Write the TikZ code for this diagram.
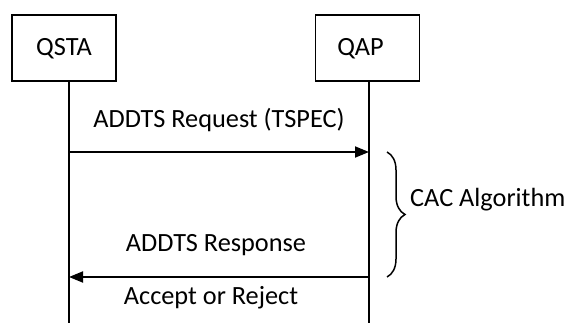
\documentclass[tikz,border=0pt]{standalone}
\usepackage{fontspec}
\setmainfont{Carlito}
\usetikzlibrary{arrows.meta,decorations.pathreplacing}
\begin{document}
\begin{tikzpicture}[x=1pt,y=-1pt,
  every node/.style={font=\fontsize{26.3}{30}\selectfont, inner sep=0pt},
  entity/.style={draw, line width=1.3pt, minimum width=104pt, minimum height=66pt, text depth=0pt},
  lifeline/.style={line width=1.3pt},
  msg/.style={line width=1.8pt, -{Triangle[length=14pt,width=11pt]}},
  label/.style={anchor=center}
]
\useasboundingbox (0,0) rectangle (570,323);
\node[entity] (qsta) at (64,48) {\raisebox{3pt}{QSTA}};
\node[entity] (qap) at (367.5,48) {\hspace*{-14pt}\raisebox{3pt}{QAP}};
\coordinate (sEnd) at (69,323);
\coordinate (aEnd) at (369,323);
\draw[lifeline] (sEnd |- qsta.south) -- (sEnd);
\draw[lifeline] (aEnd |- qap.south) -- (aEnd);
\coordinate (reqS) at (69,152);
\coordinate (reqE) at (369,152);
\coordinate (resS) at (369,277);
\coordinate (resE) at (69,277);
\draw[msg] (reqS) -- (reqE);
\draw[msg] (resS) -- (resE);
\node[label] (lreq) at (219,120) {ADDTS Request (TSPEC)};
\node[label] (lres) at (216,245) {ADDTS Response};
\node[label] (lacc) at (211,298) {Accept or Reject};
\coordinate (bTop) at (387,152);
\coordinate (bBot) at (387,277);
\draw[line width=1.5pt, decorate, decoration={brace, amplitude=18pt, raise=0pt}] (bTop) -- (bBot);
\node[anchor=west] (cac) at (410,200) {CAC Algorithm};
\end{tikzpicture}
\end{document}
